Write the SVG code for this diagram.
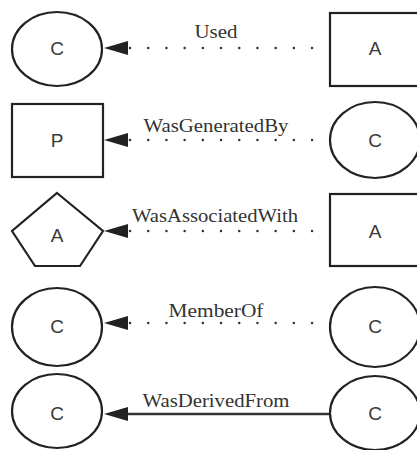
<svg xmlns="http://www.w3.org/2000/svg" width="417" height="450" viewBox="0 0 417 450">
  <style>
    .node { fill: #ffffff; stroke: #222222; stroke-width: 2.2; }
    .nlabel { font-family: "Liberation Sans", Arial, sans-serif; font-size: 19px; fill: #3a3a3a; text-anchor: middle; }
    .elabel { font-family: "Liberation Serif", "Times New Roman", serif; font-size: 19px; fill: #333333; text-anchor: middle; }
    .dotted { stroke: #333333; stroke-width: 2.4; stroke-linecap: round; stroke-dasharray: 0.1 18.1; fill: none; }
    .solid { stroke: #333333; stroke-width: 2.6; fill: none; }
    .head { fill: #222222; }
  </style>
  <rect width="417" height="450" fill="#ffffff"/>

  <!-- connectors -->
  <g id="edges">
    <g id="e-used">
      <line class="dotted" x1="130" y1="48" x2="331" y2="48"/>
      <polygon class="head" points="104,48 128,41 128,55"/>
      <text class="elabel" x="216" y="38" textLength="43" lengthAdjust="spacingAndGlyphs">Used</text>
    </g>
    <g id="e-generated">
      <line class="dotted" x1="130" y1="140" x2="331" y2="140"/>
      <polygon class="head" points="104,140 128,133 128,147"/>
      <text class="elabel" x="216" y="132" textLength="145" lengthAdjust="spacingAndGlyphs">WasGeneratedBy</text>
    </g>
    <g id="e-associated">
      <line class="dotted" x1="130" y1="231" x2="331" y2="231"/>
      <polygon class="head" points="104,231 128,224 128,238"/>
      <text class="elabel" x="215" y="222" textLength="166" lengthAdjust="spacingAndGlyphs">WasAssociatedWith</text>
    </g>
    <g id="e-member">
      <line class="dotted" x1="130" y1="323" x2="331" y2="323"/>
      <polygon class="head" points="104,323 128,316 128,330"/>
      <text class="elabel" x="216" y="317" textLength="95" lengthAdjust="spacingAndGlyphs">MemberOf</text>
    </g>
    <g id="e-derived">
      <line class="solid" x1="126" y1="414" x2="330" y2="414"/>
      <polygon class="head" points="104,414 128,407 128,421"/>
      <text class="elabel" x="216" y="407" textLength="147" lengthAdjust="spacingAndGlyphs">WasDerivedFrom</text>
    </g>
  </g>

  <!-- row 1 -->
  <g id="n1-c">
    <ellipse class="node" cx="57" cy="49" rx="45" ry="37"/>
    <text class="nlabel" x="57" y="55">C</text>
  </g>
  <g id="n1-a">
    <rect class="node" x="330" y="13" width="95" height="73"/>
    <text class="nlabel" x="375" y="55">A</text>
  </g>

  <!-- row 2 -->
  <g id="n2-p">
    <rect class="node" x="12" y="104" width="91" height="73"/>
    <text class="nlabel" x="57" y="147">P</text>
  </g>
  <g id="n2-c">
    <ellipse class="node" cx="375" cy="140" rx="45" ry="38"/>
    <text class="nlabel" x="375" y="147">C</text>
  </g>

  <!-- row 3 -->
  <g id="n3-a">
    <polygon class="node" points="57,193 103,231 80,266 35,266 12,231"/>
    <text class="nlabel" x="57" y="242">A</text>
  </g>
  <g id="n3-a2">
    <rect class="node" x="330" y="194" width="95" height="72"/>
    <text class="nlabel" x="375" y="238">A</text>
  </g>

  <!-- row 4 -->
  <g id="n4-c">
    <ellipse class="node" cx="57" cy="327" rx="45" ry="39"/>
    <text class="nlabel" x="57" y="333">C</text>
  </g>
  <g id="n4-c2">
    <ellipse class="node" cx="375" cy="327" rx="45" ry="40"/>
    <text class="nlabel" x="375" y="333">C</text>
  </g>

  <!-- row 5 -->
  <g id="n5-c">
    <ellipse class="node" cx="57" cy="411" rx="45" ry="37"/>
    <text class="nlabel" x="57" y="420">C</text>
  </g>
  <g id="n5-c2">
    <ellipse class="node" cx="375" cy="413" rx="45" ry="37"/>
    <text class="nlabel" x="375" y="420">C</text>
  </g>
</svg>
